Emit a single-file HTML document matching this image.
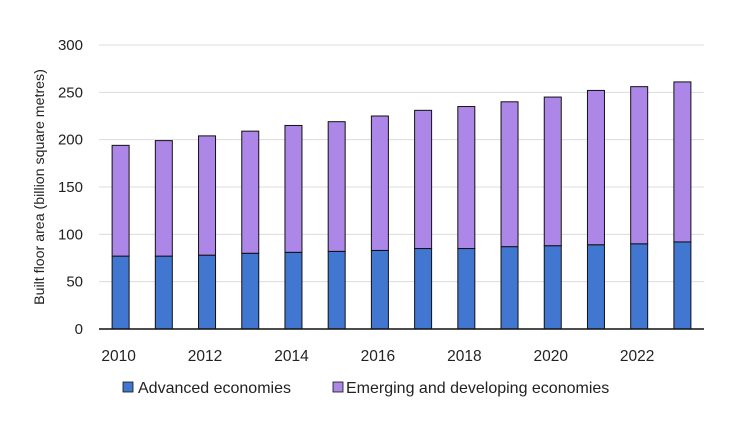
<!DOCTYPE html>
<html><head><meta charset="utf-8"><style>
body{margin:0;background:#fff;}
svg{display:block;font-family:"Liberation Sans",sans-serif;}
</style></head><body>
<svg id="chart" width="740" height="429"></svg>
<script>
const years=[2010,2011,2012,2013,2014,2015,2016,2017,2018,2019,2020,2021,2022,2023];
const advanced=[77,77,78,80,81,82,83,85,85,87,88,89,90,92];
const emerging=[117,122,126,129,134,137,142,146,150,153,157,163,166,169];
const yTicks=[0,50,100,150,200,250,300];
const xLabels=[2010,2012,2014,2016,2018,2020,2022];
const NS="http://www.w3.org/2000/svg";
const svg=document.getElementById('chart');
const x0=99,x1=704,yB=329,yT=45,yMax=300;
const band=(x1-x0)/years.length,bw=17;
const y=v=>yB-v/yMax*(yB-yT);
const xc=i=>x0+band*(i+0.5);
function mk(t,a){const e=document.createElementNS(NS,t);for(const k in a)e.setAttribute(k,a[k]);svg.appendChild(e);return e;}
yTicks.forEach(v=>{
 if(v>0){const g=mk('line',{x1:x0,x2:x1,y1:y(v),y2:y(v),stroke:'#dcdcdc','stroke-width':1});
 
 }
 const t=mk('text',{x:83,y:y(v)+5,'text-anchor':'end','font-size':15,fill:'#222'});t.textContent=v;
 
 
});
years.forEach((yr,i)=>{
 const a=mk('rect',{x:xc(i)-bw/2,y:y(advanced[i]),width:bw,height:yB-y(advanced[i]),fill:'#4177d1',stroke:'#111','stroke-width':1});
 
 
 const tot=advanced[i]+emerging[i];
 const e=mk('rect',{x:xc(i)-bw/2,y:y(tot),width:bw,height:y(advanced[i])-y(tot),fill:'#ad87e8',stroke:'#111','stroke-width':1});
 
 
});
const ax=mk('line',{x1:x0,x2:x1,y1:yB,y2:yB,stroke:'#111','stroke-width':1.5});


xLabels.forEach(l=>{const i=years.indexOf(l);
 const t=mk('text',{x:xc(i)-2,y:361,'text-anchor':'middle','font-size':15.5,fill:'#222'});t.textContent=l;
 
 });
const yt=mk('text',{x:0,y:0,transform:'translate(44,187) rotate(-90)','text-anchor':'middle','font-size':14.2,fill:'#222'});
yt.textContent='Built floor area (billion square metres)';


const l1=mk('rect',{x:123,y:382,width:10,height:10,fill:'#4177d1',stroke:'#111','stroke-width':0.8});


const t1=mk('text',{x:138,y:393,'font-size':16,fill:'#222'});t1.textContent='Advanced economies';


const l2=mk('rect',{x:333,y:382,width:10,height:10,fill:'#ad87e8',stroke:'#111','stroke-width':0.8});


const t2=mk('text',{x:346,y:393,'font-size':16,fill:'#222'});t2.textContent='Emerging and developing economies';


</script>
</body></html>
